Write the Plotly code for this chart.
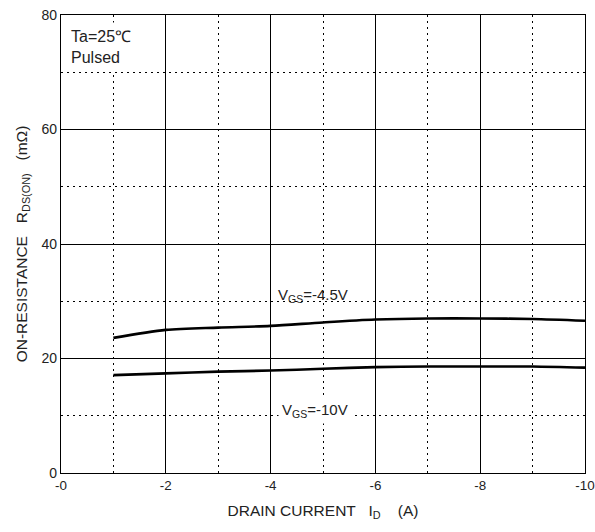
import plotly.graph_objects as go

# Data
current_a = [-1, -2, -3, -4, -5, -6, -7, -8, -9, -10]
r_vgs45 = [23.6, 25.0, 25.4, 25.7, 26.3, 26.8, 27.0, 27.0, 26.9, 26.6]
r_vgs10 = [17.1, 17.4, 17.7, 17.9, 18.2, 18.5, 18.6, 18.6, 18.6, 18.4]

x_tickvals = [0, -2, -4, -6, -8, -10]
x_ticktext = ["-0", "-2", "-4", "-6", "-8", "-10"]
y_tickvals = [0, 20, 40, 60, 80]

FONT = "Liberation Sans, Arial, sans-serif"

fig = go.Figure()
for ys in (r_vgs45, r_vgs10):
    fig.add_trace(go.Scatter(x=current_a, y=ys, mode="lines",
                             line=dict(color="black", width=2.6, shape="spline", smoothing=0.8),
                             showlegend=False, hoverinfo="skip"))

axis_common = dict(showline=True, linecolor="black", linewidth=1.2, mirror=True,
                   showgrid=True, gridcolor="black", gridwidth=1,
                   zeroline=False, ticks="", automargin=False)

fig.update_xaxes(range=[0, -10], tickvals=x_tickvals, ticktext=x_ticktext,
                 tickfont=dict(family=FONT, size=13.4, color="#222"),
                 minor=dict(dtick=1, showgrid=True, gridcolor="black", griddash="2px,4px", gridwidth=1),
                 title=dict(text="DRAIN CURRENT   I<sub>D</sub>    (A)", font=dict(family=FONT, size=15.5, color="#222"), standoff=12),
                 **axis_common)
fig.update_yaxes(range=[0, 80], tickvals=y_tickvals,
                 tickfont=dict(family=FONT, size=14, color="#222"),
                 minor=dict(dtick=10, showgrid=True, gridcolor="black", griddash="2px,4px", gridwidth=1),
                 title=dict(text="ON-RESISTANCE   R<sub>DS(ON)</sub>   (mΩ)", font=dict(family=FONT, size=15.5, color="#222"), standoff=10),
                 **axis_common)

fig.add_annotation(xref="paper", yref="paper", x=0.008, y=0.985, xanchor="left", yanchor="top",
                   text="Ta=25℃<br>Pulsed", align="left", showarrow=False,
                   bgcolor="white", borderpad=5,
                   font=dict(family=FONT, size=16, color="#222"))
fig.add_annotation(x=-4.1, y=31.0, xanchor="left", yanchor="middle",
                   text="V<sub>GS</sub>=-4.5V", showarrow=False,
                   font=dict(family=FONT, size=15, color="#222"))
fig.add_annotation(x=-4.15, y=11.0, xanchor="left", yanchor="middle",
                   text="V<sub>GS</sub>=-10V", showarrow=False, bgcolor="white", borderpad=3,
                   font=dict(family=FONT, size=15, color="#222"))

fig.update_layout(width=595, height=532, margin=dict(l=61, r=10, t=15, b=59),
                  plot_bgcolor="white", paper_bgcolor="white",
                  font=dict(family=FONT))
fig.write_html("out.html")
